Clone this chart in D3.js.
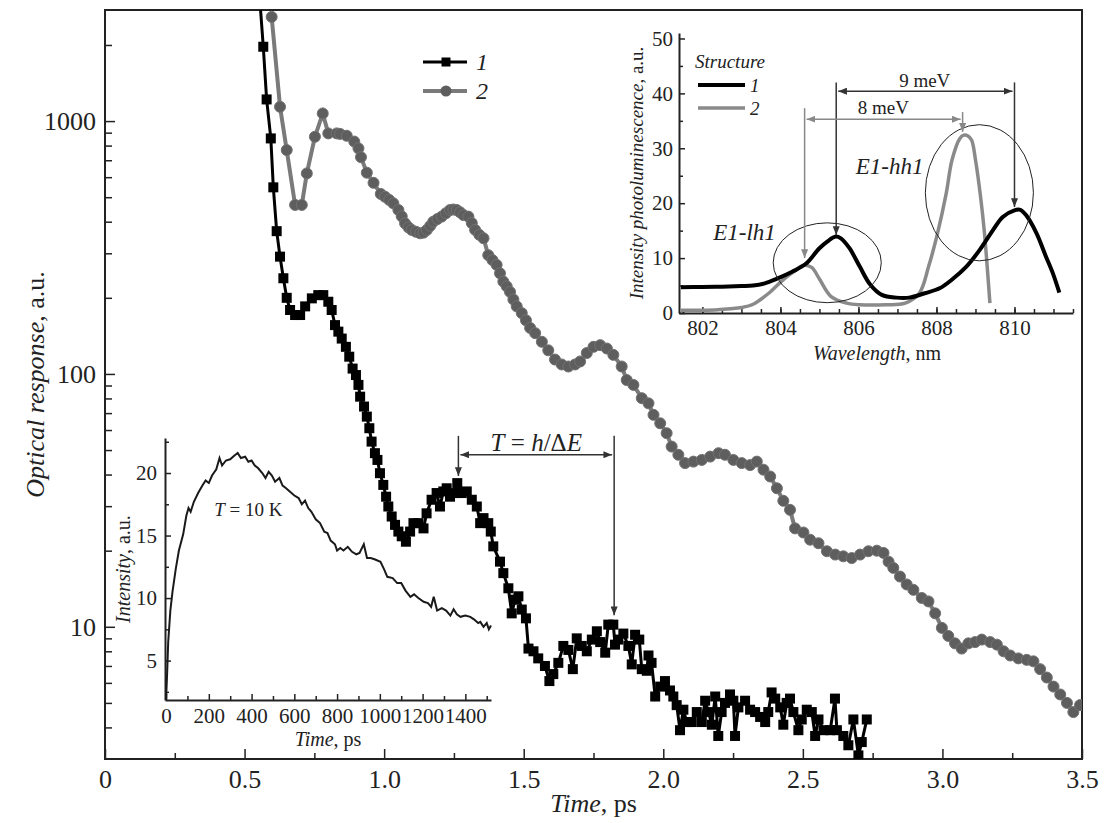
<!DOCTYPE html>
<html>
<head>
<meta charset="utf-8">
<script src="https://cdn.jsdelivr.net/npm/d3@7"></script>
<style>
  body { margin: 0; background: #fff; }
  svg text { font-family: "Liberation Serif", "Times New Roman", serif; fill: #222; }
</style>
</head>
<body>
<script>
// ---- main plot: optical response vs time (ps) ----
const s1Time = [0.552, 0.567, 0.579, 0.594, 0.603, 0.615, 0.627, 0.639, 0.651, 0.663, 0.681, 0.699, 0.717, 0.741, 0.764, 0.782, 0.800, 0.812, 0.824, 0.836,
  0.848, 0.863, 0.875, 0.887, 0.899, 0.908, 0.914, 0.928, 0.938, 0.947, 0.955, 0.967, 0.976, 0.985, 0.997, 1.007, 1.015, 1.027, 1.039, 1.051,
  1.063, 1.078, 1.093, 1.105, 1.123, 1.141, 1.152, 1.170, 1.188, 1.200, 1.212, 1.224, 1.236, 1.250, 1.262, 1.278, 1.296, 1.314, 1.332, 1.344,
  1.356, 1.373, 1.382, 1.391, 1.415, 1.427, 1.445, 1.457, 1.469, 1.481, 1.493, 1.508, 1.517, 1.535, 1.552, 1.576, 1.592, 1.606, 1.624, 1.642,
  1.660, 1.676, 1.690, 1.708, 1.726, 1.744, 1.762, 1.774, 1.792, 1.803, 1.821, 1.827, 1.839, 1.857, 1.875, 1.887, 1.899, 1.914, 1.923, 1.941,
  1.947, 1.958, 1.971, 1.989, 2.006, 2.024, 2.036, 2.048, 2.060, 2.072, 2.084, 2.102, 2.120, 2.138, 2.150, 2.162, 2.174, 2.186, 2.197, 2.209,
  2.221, 2.239, 2.251, 2.257, 2.269, 2.293, 2.311, 2.329, 2.347, 2.365, 2.376, 2.388, 2.401, 2.419, 2.430, 2.442, 2.454, 2.466, 2.484, 2.496,
  2.514, 2.532, 2.544, 2.556, 2.574, 2.598, 2.615, 2.622, 2.645, 2.663, 2.681, 2.699, 2.711, 2.729]
const s1Resp = [3300, 1968, 1218, 854, 547, 367, 291, 239, 200, 179, 171, 171, 185, 199, 205, 205, 193, 179, 156, 147,
  138, 128, 117, 105, 99, 90.5, 81.3, 74.3, 67.8, 61.0, 54.0, 48.6, 45.7, 40.5, 36.4, 32.7, 29.9, 27.3, 25.3, 23.8,
  22.8, 21.7, 23.8, 25.7, 25.7, 24.5, 28.1, 31.8, 33.8, 29.9, 34.3, 35.3, 32.7, 33.8, 37.0, 33.8, 34.3, 31.8, 29.9, 25.7,
  26.9, 25.7, 23.8, 20.8, 18.1, 16.3, 14.2, 11.3, 12.8, 13.2, 11.7, 10.8, 8.2, 8.0, 7.5, 7.0, 6.1, 6.5, 7.2, 8.4,
  8.1, 6.8, 9.0, 8.4, 8.0, 8.9, 9.6, 8.7, 7.9, 10.2, 10.2, 8.5, 8.9, 9.4, 8.4, 7.1, 9.3, 8.9, 6.8, 6.7,
  7.7, 7.2, 5.3, 5.8, 6.1, 5.6, 5.3, 4.9, 3.9, 4.7, 4.2, 4.2, 4.6, 4.2, 5.1, 4.6, 4.1, 5.3, 3.7, 4.6,
  5.0, 5.4, 5.1, 3.7, 4.8, 5.1, 4.7, 4.6, 4.4, 4.2, 4.6, 5.5, 5.2, 4.8, 4.1, 5.0, 5.2, 4.6, 3.9, 4.3,
  4.7, 4.6, 3.7, 4.3, 3.9, 3.9, 5.2, 3.9, 3.7, 3.4, 4.3, 3.1, 3.5, 4.3]

const s2Time = [0.597, 0.627, 0.651, 0.681, 0.705, 0.723, 0.752, 0.780, 0.800, 0.830, 0.842, 0.866, 0.893, 0.908, 0.917, 0.938, 0.962, 0.988, 1.003, 1.018,
  1.033, 1.051, 1.063, 1.075, 1.087, 1.099, 1.114, 1.129, 1.141, 1.153, 1.165, 1.176, 1.191, 1.206, 1.221, 1.236, 1.248, 1.260, 1.272, 1.284,
  1.302, 1.314, 1.326, 1.341, 1.356, 1.373, 1.388, 1.403, 1.415, 1.427, 1.439, 1.451, 1.463, 1.475, 1.493, 1.508, 1.523, 1.541, 1.565,
  1.588, 1.612, 1.636, 1.660, 1.684, 1.702, 1.726, 1.750, 1.774, 1.798, 1.821, 1.851, 1.869, 1.893, 1.923, 1.947, 1.965, 1.989, 2.012, 2.030,
  2.054, 2.078, 2.108, 2.138, 2.168, 2.198, 2.221, 2.251, 2.281, 2.311, 2.335, 2.359, 2.383, 2.407, 2.430, 2.454, 2.472, 2.502, 2.526, 2.556,
  2.586, 2.616, 2.645, 2.675, 2.705, 2.735, 2.765, 2.789, 2.807, 2.824, 2.848, 2.872, 2.896, 2.926, 2.950, 2.974, 2.998, 3.021, 3.045, 3.069,
  3.093, 3.117, 3.141, 3.171, 3.195, 3.219, 3.243, 3.272, 3.302, 3.326, 3.350, 3.374, 3.398, 3.422, 3.446, 3.469, 3.493]
const s2Resp = [2583, 1139, 768, 466, 466, 621, 867, 1072, 894, 894, 890, 875, 830, 780, 720, 625, 570, 515, 502, 488,
  473, 445, 420, 394, 380, 371, 365, 360, 362, 371, 385, 400, 410, 419, 432, 445, 447, 445, 436, 425,
  419, 395, 371, 355, 344, 295, 282, 270, 250, 232, 222, 211, 197, 185, 174, 163, 152, 145, 134,
  124, 114, 109, 107, 109, 112, 121, 128, 130, 126, 119, 107, 94.6, 90.5, 80.2, 76.5, 68.9, 63.8, 58.3, 51.6,
  47.9, 44.4, 45.0, 45.7, 47.1, 48.6, 47.9, 45.7, 44.4, 43.6, 45.0, 41.8, 39.3, 35.3, 31.5, 29.0, 24.5, 23.6, 22.1, 21.4,
  19.9, 19.3, 19.0, 18.7, 19.3, 19.9, 20.0, 19.6, 18.1, 17.1, 15.8, 14.7, 14.0, 13.0, 12.6, 11.3, 9.9, 9.2, 8.6, 8.2,
  8.6, 8.7, 8.9, 8.7, 8.5, 8.0, 7.7, 7.5, 7.4, 7.3, 6.8, 6.3, 5.8, 5.4, 5.0, 4.6, 4.9]

const mainXMajor = [0, 0.5, 1.0, 1.5, 2.0, 2.5, 3.0, 3.5]
const mainXMinor = [0.25, 0.75, 1.25, 1.75, 2.25, 2.75, 3.25]
const mainYMajor = [10, 100, 1000]
const mainYMinor = [4, 5, 6, 7, 8, 9, 20, 30, 40, 50, 60, 70, 80, 90, 200, 300, 400, 500, 600, 700, 800, 900, 2000]

// ---- top-right inset: PL spectra ----
const pl1Wave = [801.45, 802, 802.5, 803, 803.3, 803.6, 803.9, 804.3, 804.66, 805.0, 805.2, 805.4, 805.55, 805.77, 806.03, 806.3, 806.6, 806.97, 807.3, 807.7,
  808.08, 808.4, 808.76, 809.1, 809.44, 809.7, 810.0, 810.15, 810.3, 810.56, 810.8, 810.98, 811.15]
const pl1Int = [4.7, 4.75, 4.8, 4.9, 5.0, 5.4, 6.2, 7.5, 9.0, 11.8, 13.0, 13.9, 13.6, 11.8, 8.5, 5.2, 3.3, 2.8, 2.8, 3.6,
  4.5, 6.1, 8.4, 11.4, 15.0, 17.5, 18.7, 18.8, 17.8, 14.6, 10.4, 7.3, 3.7]
const pl2Wave = [801.45, 802, 802.4, 803, 803.3, 803.7, 804.06, 804.35, 804.6, 804.8, 805.0, 805.3, 805.7, 806.03, 806.7, 807.2, 807.56, 807.8, 808.03, 808.25,
  808.4, 808.6, 808.7, 808.8, 808.9, 809.0, 809.14, 809.23, 809.3, 809.37]
const pl2Int = [0.5, 0.5, 0.6, 1.0, 1.6, 3.6, 6.0, 7.6, 8.7, 8.3, 6.2, 3.0, 1.8, 1.5, 1.5, 1.8, 3.6, 8.5, 14.6, 21.8,
  27.9, 31.8, 32.4, 32.3, 31.5, 27.9, 20.6, 14.6, 8.5, 1.8]
const plXMajor = [802, 804, 806, 808, 810]
const plXMinor = d3.range(801.5, 811.6, 0.5)
const plYMajor = [0, 10, 20, 30, 40, 50]
const plYMinor = [5, 15, 25, 35, 45]

// ---- bottom-left inset: time-resolved intensity ----
const trTime = [0, 5, 10, 20, 30, 45, 60, 80, 95, 105, 115, 130, 150, 170, 185, 200, 215, 235, 250, 262,
  280, 300, 320, 335, 350, 370, 385, 400, 415, 430, 450, 465, 480, 495, 510, 530, 545, 560, 580, 600,
  620, 635, 650, 665, 680, 700, 720, 740, 755, 770, 790, 800, 815, 830, 850, 870, 890, 905, 925, 940,
  957, 975, 1003, 1020, 1035, 1060, 1081, 1100, 1120, 1143, 1160, 1180, 1205, 1225, 1240, 1252, 1268, 1290, 1310, 1330,
  1345, 1360, 1377, 1400, 1423, 1440, 1460, 1470, 1485, 1500, 1510, 1520]
const trInt = [1.9, 4.0, 6.5, 9.0, 10.5, 12.3, 13.8, 15.1, 16.6, 17.2, 16.9, 17.7, 18.4, 19.0, 19.4, 19.2, 19.8, 20.3, 21.2, 20.6,
  21.0, 21.1, 21.4, 21.6, 21.2, 21.3, 20.9, 21.0, 20.6, 20.4, 20.0, 19.6, 20.1, 19.8, 19.3, 19.6, 19.0, 18.8, 18.5, 18.2,
  18.0, 17.5, 17.8, 17.2, 16.9, 16.3, 16.0, 15.3, 15.2, 14.6, 14.3, 13.8, 14.0, 13.8, 14.1, 13.7, 13.5, 13.6, 14.3, 13.2,
  13.2, 13.1, 12.9, 12.3, 11.7, 11.6, 11.2, 11.2, 10.6, 10.1, 10.3, 10.0, 9.7, 9.6, 9.3, 10.1, 9.0, 9.2, 9.0, 8.6,
  9.1, 8.7, 8.5, 8.6, 8.5, 8.3, 8.0, 8.1, 7.7, 8.0, 7.5, 7.8]
const trXMajor = [0, 200, 400, 600, 800, 1000, 1200, 1400]
const trXMinor = [100, 300, 500, 700, 900, 1100, 1300, 1500]
const trYMajor = [5, 10, 15, 20]
const trYMinor = [2.5, 7.5, 12.5, 17.5, 22.5]

const zip = (xs, ys) => xs.map((d, i) => [d, ys[i]])

const W = 1104, H = 823
const svg = d3.select('body').append('svg').attr('width', W).attr('height', H)

const defs = svg.append('defs')
function arrowMarker(id, color) {
  defs.append('marker')
    .attr('id', id)
    .attr('viewBox', '0 0 10 8')
    .attr('refX', 10).attr('refY', 4)
    .attr('markerWidth', 9).attr('markerHeight', 7)
    .attr('markerUnits', 'userSpaceOnUse')
    .attr('orient', 'auto-start-reverse')
    .append('path').attr('d', 'M0,0 L10,4 L0,8 z').attr('fill', color)
}
arrowMarker('arDark', '#333')
arrowMarker('arGray', '#888')

function styleAxis(g, size) {
  g.attr('font-family', '"Liberation Serif", serif').attr('font-size', size)
  g.selectAll('line').attr('stroke', '#222').attr('stroke-width', 1.5)
  g.selectAll('text').attr('fill', '#222')
}

// main scales
const M = { left: 105, right: 1082, top: 10, bottom: 759 }
const x = d3.scaleLinear().domain([0, 3.5]).range([M.left, M.right])
const y = d3.scaleLog().domain([3, 2750]).range([M.bottom, M.top])

defs.append('clipPath').attr('id', 'mainClip')
  .append('rect').attr('x', M.left).attr('y', M.top)
  .attr('width', M.right - M.left).attr('height', M.bottom - M.top)

// main axes (ticks point inward)
svg.append('g').attr('transform', `translate(0,${M.bottom})`)
  .call(d3.axisBottom(x).tickValues(mainXMajor).tickSize(-10).tickPadding(11)
    .tickFormat(d => d === 0 ? '0' : d.toFixed(1)))
  .call(g => g.select('.domain').remove())
  .call(g => styleAxis(g, 26))
svg.append('g').attr('transform', `translate(0,${M.bottom})`)
  .call(d3.axisBottom(x).tickValues(mainXMinor).tickSize(-6).tickFormat(''))
  .call(g => g.select('.domain').remove())
  .call(g => styleAxis(g, 26))
svg.append('g').attr('transform', `translate(${M.left},0)`)
  .call(d3.axisLeft(y).tickValues(mainYMajor).tickSize(-10).tickPadding(9).tickFormat(d3.format('d')))
  .call(g => g.select('.domain').remove())
  .call(g => styleAxis(g, 26))
svg.append('g').attr('transform', `translate(${M.left},0)`)
  .call(d3.axisLeft(y).tickValues(mainYMinor).tickSize(-7).tickFormat(''))
  .call(g => g.select('.domain').remove())
  .call(g => styleAxis(g, 26))

svg.append('rect')
  .attr('x', M.left).attr('y', M.top)
  .attr('width', M.right - M.left).attr('height', M.bottom - M.top)
  .attr('fill', 'none').attr('stroke', '#222').attr('stroke-width', 2)

// main titles
svg.append('text')
  .attr('x', (M.left + M.right) / 2).attr('y', 812)
  .attr('text-anchor', 'middle').attr('font-size', 26)
  .call(t => { t.append('tspan').attr('font-style', 'italic').text('Time'); t.append('tspan').text(', ps') })
svg.append('text')
  .attr('transform', `translate(44,${(M.top + M.bottom) / 2}) rotate(-90)`)
  .attr('text-anchor', 'middle').attr('font-size', 26)
  .call(t => { t.append('tspan').attr('font-style', 'italic').text('Optical response'); t.append('tspan').text(', a.u.') })

// bottom-left inset
const tx = d3.scaleLinear().domain([-5, 1520]).range([165, 491])
const ty = d3.scaleLinear().domain([1.85, 22.8]).range([700, 438])

svg.append('g').attr('transform', 'translate(0,700)')
  .call(d3.axisBottom(tx).tickValues(trXMajor).tickSize(-6).tickSizeOuter(0).tickPadding(8).tickFormat(d3.format('d')))
  .call(g => g.select('.domain').attr('stroke', '#222').attr('stroke-width', 2))
  .call(g => styleAxis(g, 21))
svg.append('g').attr('transform', 'translate(0,700)')
  .call(d3.axisBottom(tx).tickValues(trXMinor).tickSize(-4).tickFormat(''))
  .call(g => g.select('.domain').remove())
  .call(g => styleAxis(g, 21))
svg.append('g').attr('transform', 'translate(165,0)')
  .call(d3.axisLeft(ty).tickValues(trYMajor).tickSize(-6).tickSizeOuter(0).tickPadding(8))
  .call(g => g.select('.domain').attr('stroke', '#222').attr('stroke-width', 2))
  .call(g => styleAxis(g, 21))
svg.append('g').attr('transform', 'translate(165,0)')
  .call(d3.axisLeft(ty).tickValues(trYMinor).tickSize(-4).tickFormat(''))
  .call(g => g.select('.domain').remove())
  .call(g => styleAxis(g, 21))

svg.append('path')
  .attr('d', d3.line().x(d => tx(d[0])).y(d => ty(d[1]))(zip(trTime, trInt)))
  .attr('fill', 'none').attr('stroke', '#1a1a1a').attr('stroke-width', 2)

svg.append('text').attr('x', 328).attr('y', 746).attr('text-anchor', 'middle').attr('font-size', 20)
  .call(t => { t.append('tspan').attr('font-style', 'italic').text('Time'); t.append('tspan').text(', ps') })
svg.append('text').attr('transform', 'translate(130,569) rotate(-90)')
  .attr('text-anchor', 'middle').attr('font-size', 20)
  .call(t => { t.append('tspan').attr('font-style', 'italic').text('Intensity'); t.append('tspan').text(', a.u.') })
svg.append('text').attr('x', tx(385)).attr('y', ty(16.6)).attr('text-anchor', 'middle').attr('font-size', 19)
  .call(t => { t.append('tspan').attr('font-style', 'italic').text('T'); t.append('tspan').text(' = 10 K') })

// main series
const line = d3.line().x(d => x(d[0])).y(d => y(d[1]))
const s1 = zip(s1Time, s1Resp)
const s2 = zip(s2Time, s2Resp)
const plot = svg.append('g').attr('clip-path', 'url(#mainClip)')

plot.append('path').attr('d', line(s2))
  .attr('fill', 'none').attr('stroke', '#7a7a7a').attr('stroke-width', 4)
plot.selectAll('circle.s2').data(s2).join('circle').attr('class', 's2')
  .attr('cx', d => x(d[0])).attr('cy', d => y(d[1])).attr('r', 5.5)
  .attr('fill', '#5e5e5e').attr('stroke', '#727272').attr('stroke-width', 1)

plot.append('path').attr('d', line(s1))
  .attr('fill', 'none').attr('stroke', '#000').attr('stroke-width', 3)
plot.selectAll('rect.s1').data(s1).join('rect').attr('class', 's1')
  .attr('x', d => x(d[0]) - 5).attr('y', d => y(d[1]) - 5)
  .attr('width', 10).attr('height', 10).attr('fill', '#000')

// main legend
const leg = svg.append('g')
leg.append('line').attr('x1', 423).attr('x2', 467).attr('y1', 62).attr('y2', 62).attr('stroke', '#000').attr('stroke-width', 3)
leg.append('rect').attr('x', 441.5).attr('y', 57.5).attr('width', 9).attr('height', 9).attr('fill', '#000')
leg.append('text').attr('x', 476).attr('y', 70).attr('font-size', 24).attr('font-style', 'italic').text('1')
leg.append('line').attr('x1', 423).attr('x2', 467).attr('y1', 91).attr('y2', 91).attr('stroke', '#7a7a7a').attr('stroke-width', 4)
leg.append('circle').attr('cx', 446).attr('cy', 91).attr('r', 5.5).attr('fill', '#5e5e5e')
leg.append('text').attr('x', 476).attr('y', 99).attr('font-size', 24).attr('font-style', 'italic').text('2')

// period annotation T = h/dE
const tPeak1 = 1.266, tPeak2 = 1.824
const annDark = svg.append('g').attr('stroke', '#333').attr('stroke-width', 1.5)
annDark.append('line').attr('x1', x(tPeak1)).attr('x2', x(tPeak1)).attr('y1', y(56.9)).attr('y2', y(39.5)).attr('marker-end', 'url(#arDark)')
annDark.append('line').attr('x1', x(tPeak2)).attr('x2', x(tPeak2)).attr('y1', y(56.9)).attr('y2', y(11.1)).attr('marker-end', 'url(#arDark)')
annDark.append('line').attr('x1', x(tPeak1) + 2).attr('x2', x(tPeak2) - 2).attr('y1', y(47.9)).attr('y2', y(47.9))
  .attr('marker-start', 'url(#arDark)').attr('marker-end', 'url(#arDark)')
svg.append('text').attr('x', x((tPeak1 + tPeak2) / 2)).attr('y', y(47.9) - 4)
  .attr('text-anchor', 'middle').attr('font-size', 25)
  .call(t => {
    t.append('tspan').attr('font-style', 'italic').text('T')
    t.append('tspan').text(' = ')
    t.append('tspan').attr('font-style', 'italic').text('h')
    t.append('tspan').text('/\u0394')
    t.append('tspan').attr('font-style', 'italic').text('E')
  })

// top-right inset
const ix = d3.scaleLinear().domain([801.4, 811.5]).range([679, 1073])
const iy = d3.scaleLinear().domain([0, 51]).range([313, 33])

svg.append('g').attr('transform', 'translate(0,313)')
  .call(d3.axisBottom(ix).tickValues(plXMajor).tickSize(-6).tickSizeOuter(0).tickPadding(7))
  .call(g => g.select('.domain').attr('stroke', '#222').attr('stroke-width', 2))
  .call(g => styleAxis(g, 21))
svg.append('g').attr('transform', 'translate(0,313)')
  .call(d3.axisBottom(ix).tickValues(plXMinor).tickSize(-4).tickFormat(''))
  .call(g => g.select('.domain').remove())
  .call(g => styleAxis(g, 21))
svg.append('g').attr('transform', 'translate(679,0)')
  .call(d3.axisLeft(iy).tickValues(plYMajor).tickSize(-6).tickSizeOuter(0).tickPadding(6))
  .call(g => g.select('.domain').attr('stroke', '#222').attr('stroke-width', 2))
  .call(g => styleAxis(g, 21))
svg.append('g').attr('transform', 'translate(679,0)')
  .call(d3.axisLeft(iy).tickValues(plYMinor).tickSize(-4).tickFormat(''))
  .call(g => g.select('.domain').remove())
  .call(g => styleAxis(g, 21))

const pline = d3.line().x(d => ix(d[0])).y(d => iy(d[1])).curve(d3.curveCatmullRom)
svg.append('path').attr('d', pline(zip(pl2Wave, pl2Int)))
  .attr('fill', 'none').attr('stroke', '#8a8a8a').attr('stroke-width', 3.5)
svg.append('path').attr('d', pline(zip(pl1Wave, pl1Int)))
  .attr('fill', 'none').attr('stroke', '#000').attr('stroke-width', 4)

// ellipses around the transitions
const ellipses = [
  { wl: 805.2, v: 9.15, dw: 1.385, dv: 7.27 },
  { wl: 809.1, v: 21.9, dw: 1.385, dv: 12.4 }
]
svg.selectAll('ellipse.tr').data(ellipses).join('ellipse').attr('class', 'tr')
  .attr('cx', d => ix(d.wl)).attr('cy', d => iy(d.v))
  .attr('rx', d => ix(d.wl + d.dw) - ix(d.wl)).attr('ry', d => iy(0) - iy(d.dv))
  .attr('fill', 'none').attr('stroke', '#222').attr('stroke-width', 1)

svg.append('text').attr('x', ix(803.08)).attr('y', iy(13.3)).attr('text-anchor', 'middle')
  .attr('font-size', 23).attr('font-style', 'italic').text('E1-lh1')
svg.append('text').attr('x', ix(806.8)).attr('y', iy(25.3)).attr('text-anchor', 'middle')
  .attr('font-size', 23).attr('font-style', 'italic').text('E1-hh1')

// splitting arrows
const ann1 = svg.append('g').attr('stroke', '#333').attr('stroke-width', 1.5)
ann1.append('line').attr('x1', ix(805.43)).attr('x2', ix(805.43)).attr('y1', iy(42)).attr('y2', iy(14.2)).attr('marker-end', 'url(#arDark)')
ann1.append('line').attr('x1', ix(810.0)).attr('x2', ix(810.0)).attr('y1', iy(42)).attr('y2', iy(19.3)).attr('marker-end', 'url(#arDark)')
ann1.append('line').attr('x1', ix(805.43) + 2).attr('x2', ix(810.0) - 2).attr('y1', iy(40.4)).attr('y2', iy(40.4))
  .attr('marker-start', 'url(#arDark)').attr('marker-end', 'url(#arDark)')
const ann2 = svg.append('g').attr('stroke', '#888').attr('stroke-width', 1.5)
ann2.append('line').attr('x1', ix(804.62)).attr('x2', ix(804.62)).attr('y1', iy(37.3)).attr('y2', iy(10.0)).attr('marker-end', 'url(#arGray)')
ann2.append('line').attr('x1', ix(808.67)).attr('x2', ix(808.67)).attr('y1', iy(36.6)).attr('y2', iy(33.0)).attr('marker-end', 'url(#arGray)')
ann2.append('line').attr('x1', ix(804.62) + 2).attr('x2', ix(808.67) - 2).attr('y1', iy(35.3)).attr('y2', iy(35.3))
  .attr('marker-start', 'url(#arGray)').attr('marker-end', 'url(#arGray)')
svg.append('text').attr('x', ix(807.7)).attr('y', iy(41.1)).attr('text-anchor', 'middle').attr('font-size', 19).text('9 meV')
svg.append('text').attr('x', ix(806.64)).attr('y', iy(36.2)).attr('text-anchor', 'middle').attr('font-size', 19).text('8 meV')

// inset titles and legend
svg.append('text').attr('x', 877).attr('y', 360).attr('text-anchor', 'middle').attr('font-size', 20)
  .call(t => { t.append('tspan').attr('font-style', 'italic').text('Wavelength'); t.append('tspan').text(', nm') })
svg.append('text').attr('transform', 'translate(643,173) rotate(-90)')
  .attr('text-anchor', 'middle').attr('font-size', 19)
  .call(t => { t.append('tspan').attr('font-style', 'italic').text('Intensity photoluminescence'); t.append('tspan').text(', a.u.') })

svg.append('text').attr('x', 695).attr('y', 68).attr('font-size', 19).attr('font-style', 'italic').text('Structure')
svg.append('line').attr('x1', 698).attr('x2', 745).attr('y1', 85).attr('y2', 85).attr('stroke', '#000').attr('stroke-width', 4)
svg.append('text').attr('x', 750).attr('y', 92).attr('font-size', 19).attr('font-style', 'italic').text('1')
svg.append('line').attr('x1', 698).attr('x2', 745).attr('y1', 108).attr('y2', 108).attr('stroke', '#8a8a8a').attr('stroke-width', 3.5)
svg.append('text').attr('x', 750).attr('y', 115).attr('font-size', 19).attr('font-style', 'italic').text('2')
</script>
</body>
</html>
